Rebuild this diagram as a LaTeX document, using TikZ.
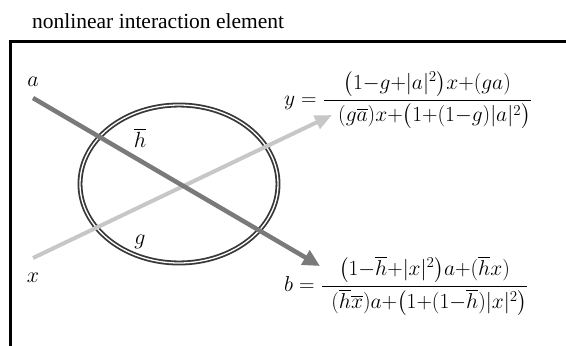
\RequirePackage{fix-cm}
\documentclass[tikz,border=0pt]{standalone}
\usepackage{amsmath}
\usepackage{fontspec}
\setmainfont{Liberation Serif}
\usetikzlibrary{arrows.meta,shapes.geometric,positioning}

\begin{document}
\begin{tikzpicture}[x=1pt, y=-1pt,
    lbl/.style={inner sep=0pt, font=\fontsize{22}{26}\selectfont},
    eqn/.style={inner sep=0pt, anchor=base west, font=\fontsize{21.5}{26}\selectfont},
    ring/.style={draw=black!78, ellipse, line width=1.8pt, double=white, double distance=1.3pt, minimum width=198pt, minimum height=158pt, inner sep=0pt},
    darkarr/.style={draw=black!52, line width=4.5pt, -{Triangle[length=17pt,width=16pt]}},
    lightarr/.style={draw=black!22, line width=4pt, -{Triangle[length=17pt,width=14pt]}}
]
\useasboundingbox (0,0) rectangle (566,346);
\medmuskip=0mu

\node[anchor=base west, inner sep=0pt, font=\fontsize{21.5}{25}\selectfont] (title) at (32,28) {nonlinear interaction element};

% frame
\draw[line width=3pt] (10,360) -- (10,41) -- (580,41);

\node[ring] (ring) at (179,184) {};

\node[lbl] (a) at (33,82) {$a$};
\node[lbl] (x) at (33,278) {$x$};
\node[lbl] (hb) at (140,138) {$\overline{h}$};
\node[lbl] (g) at (140,242) {$g$};

\coordinate (a0) at (33,98);
\coordinate (b1) at (320,266);
\coordinate (x0) at (33,258);
\coordinate (y1) at (332,115);

\draw[lightarr] (x0) -- (y1);
\draw[darkarr] (a0) -- (b1);

\node[eqn] (yeq) at (284,105.5) {$y=\dfrac{\bigl(1-g+|a|^2\bigr)x+(ga)}{\mkern12mu(g\overline{a})x+\bigl(1+(1-g)|a|^2\bigr)}$};
\node[eqn] (beq) at (284,291.5) {$b=\dfrac{\bigl(1-\overline{h}+|x|^2\bigr)a+(\overline{h}x)}{\mkern8mu(\overline{h}\overline{x})a+\bigl(1+(1-\overline{h})|x|^2\bigr)}$};
\end{tikzpicture}
\end{document}
